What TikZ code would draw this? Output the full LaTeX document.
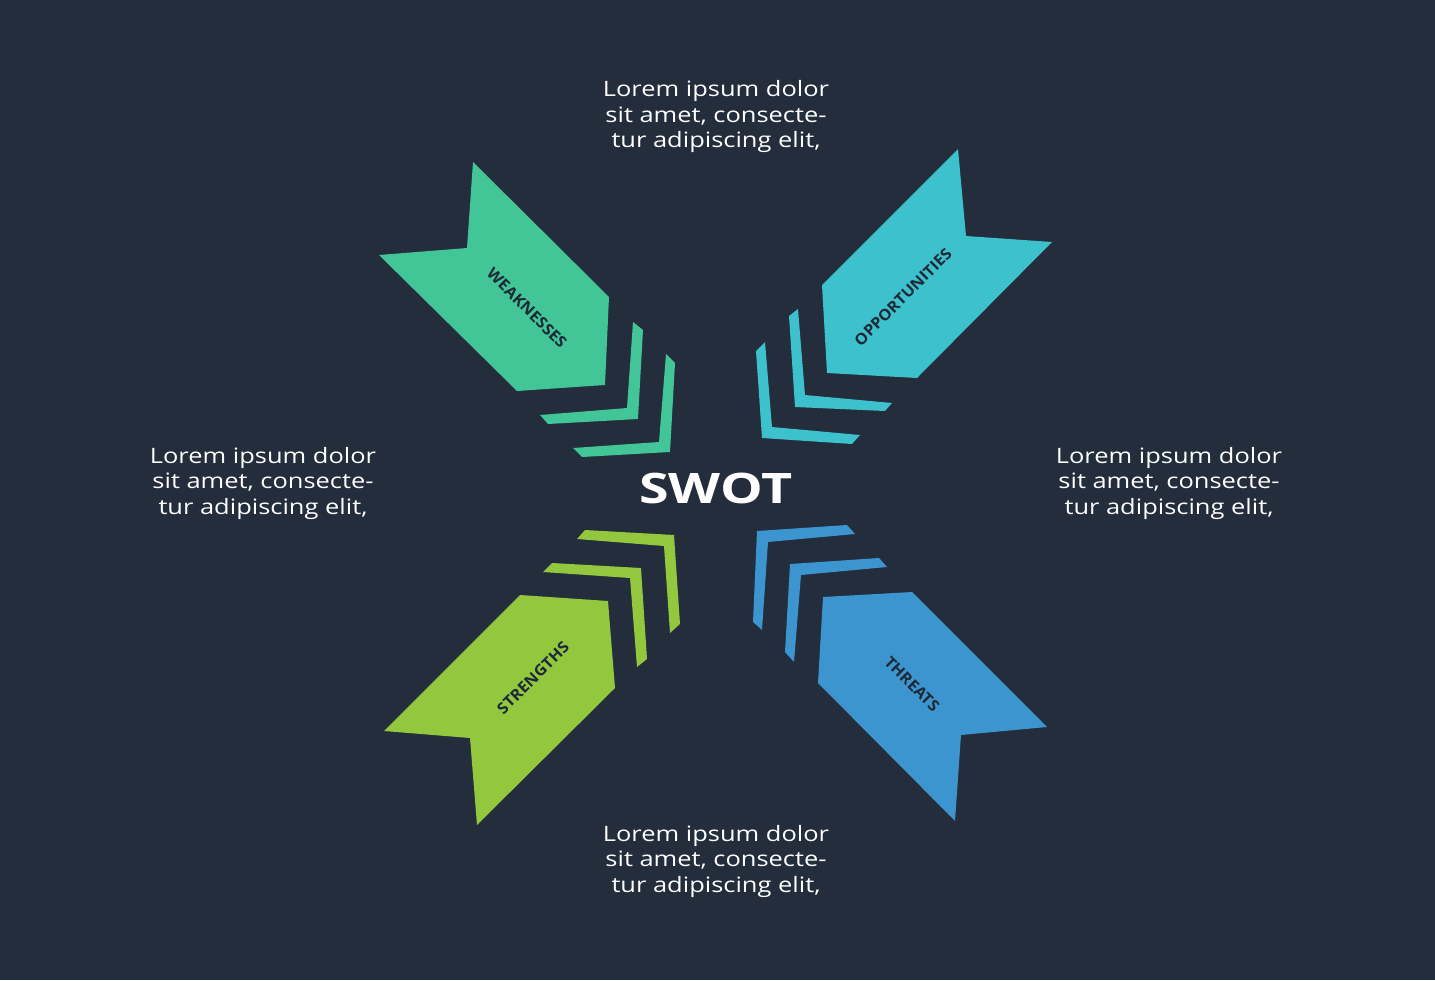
\documentclass[tikz,border=0pt]{standalone}
\usepackage{fontspec}
\setmainfont{Open Sans}
\newfontfamily\lorfont[FakeStretch=1.2]{Open Sans}
\newfontfamily\swotfont[FakeStretch=1.28]{Open Sans}
\newfontfamily\labfont[FakeStretch=1.05]{Open Sans}
\definecolor{bg}{HTML}{232D3C}
\definecolor{wcol}{HTML}{42C597}
\definecolor{ocol}{HTML}{3CC1CD}
\definecolor{scol}{HTML}{93C83E}
\definecolor{tcol}{HTML}{3D95CF}
\definecolor{labc}{HTML}{1C2A38}
\begin{document}
\begin{tikzpicture}[x=1pt,y=-1pt,
  lorem/.style={text=white, font=\lorfont\fontsize{21.2}{25.5}\selectfont, align=center, inner sep=0pt},
  lab/.style={text=labc, font=\labfont\fontsize{15.5}{18}\selectfont\bfseries, inner sep=0pt},
  title/.style={text=white, font=\swotfont\fontsize{42}{48}\selectfont\bfseries, inner sep=0pt}]
\fill[bg] (0,0) rectangle (1435,980);
\useasboundingbox (0,0) rectangle (1435,980);
% Weaknesses (top-left)
\fill[wcol] (473,162) -- (609,297) -- (605,385) -- (517,391) -- (379,255) -- (467,248) -- cycle;
\fill[wcol] (633,322) -- (643,330) -- (638,419) -- (548,424) -- (540,415) -- (627,408) -- cycle;
\fill[wcol] (666,354) -- (675,363) -- (670,452) -- (582,457) -- (573,448) -- (659,442) -- cycle;
% Opportunities (top-right)
\fill[ocol] (958,149) -- (966,236) -- (1052,242) -- (917,378) -- (827,373) -- (822,285) -- cycle;
\fill[ocol] (798,309) -- (805,395) -- (892,403) -- (885,411) -- (795,407) -- (789,316) -- cycle;
\fill[ocol] (765,342) -- (772,427) -- (860,435) -- (852,444) -- (762,438) -- (756,351) -- cycle;
% Strengths (bottom-left)
\fill[scol] (384,731) -- (470,738) -- (477,825) -- (615,688) -- (608,601) -- (520,595) -- cycle;
\fill[scol] (552,563) -- (641,568) -- (647,659) -- (637,667) -- (630,578) -- (543,572) -- cycle;
\fill[scol] (585,530) -- (674,535) -- (680,624) -- (670,633) -- (664,546) -- (577,539) -- cycle;
% Threats (bottom-right)
\fill[tcol] (823,597) -- (912,592) -- (1047,727) -- (961,735) -- (955,821) -- (818,683) -- cycle;
\fill[tcol] (790,564) -- (879,558) -- (887,567) -- (801,575) -- (794,662) -- (785,652) -- cycle;
\fill[tcol] (757,531) -- (847,525) -- (855,534) -- (768,542) -- (762,630) -- (753,622) -- cycle;
% labels
\node[lab, rotate=-45] (wlab) at (527,308) {WEAKNESSES};
\node[lab, rotate=45] (olab) at (903,297) {OPPORTUNITIES};
\node[lab, rotate=45] (slab) at (533,678) {STRENGTHS};
\node[lab, rotate=-45] (tlab) at (912,684) {THREATS};
\node[title, anchor=base] (swot) at (716,503) {SWOT};
% texts
\node[lorem] (ttop) at (716,116.5) {Lorem ipsum dolor\\sit amet, consecte-\\tur adipiscing elit,};
\node[lorem] (tleft) at (263,483.4) {Lorem ipsum dolor\\sit amet, consecte-\\tur adipiscing elit,};
\node[lorem] (tright) at (1169,483.4) {Lorem ipsum dolor\\sit amet, consecte-\\tur adipiscing elit,};
\node[lorem] (tbottom) at (716,861.4) {Lorem ipsum dolor\\sit amet, consecte-\\tur adipiscing elit,};
\end{tikzpicture}
\end{document}
